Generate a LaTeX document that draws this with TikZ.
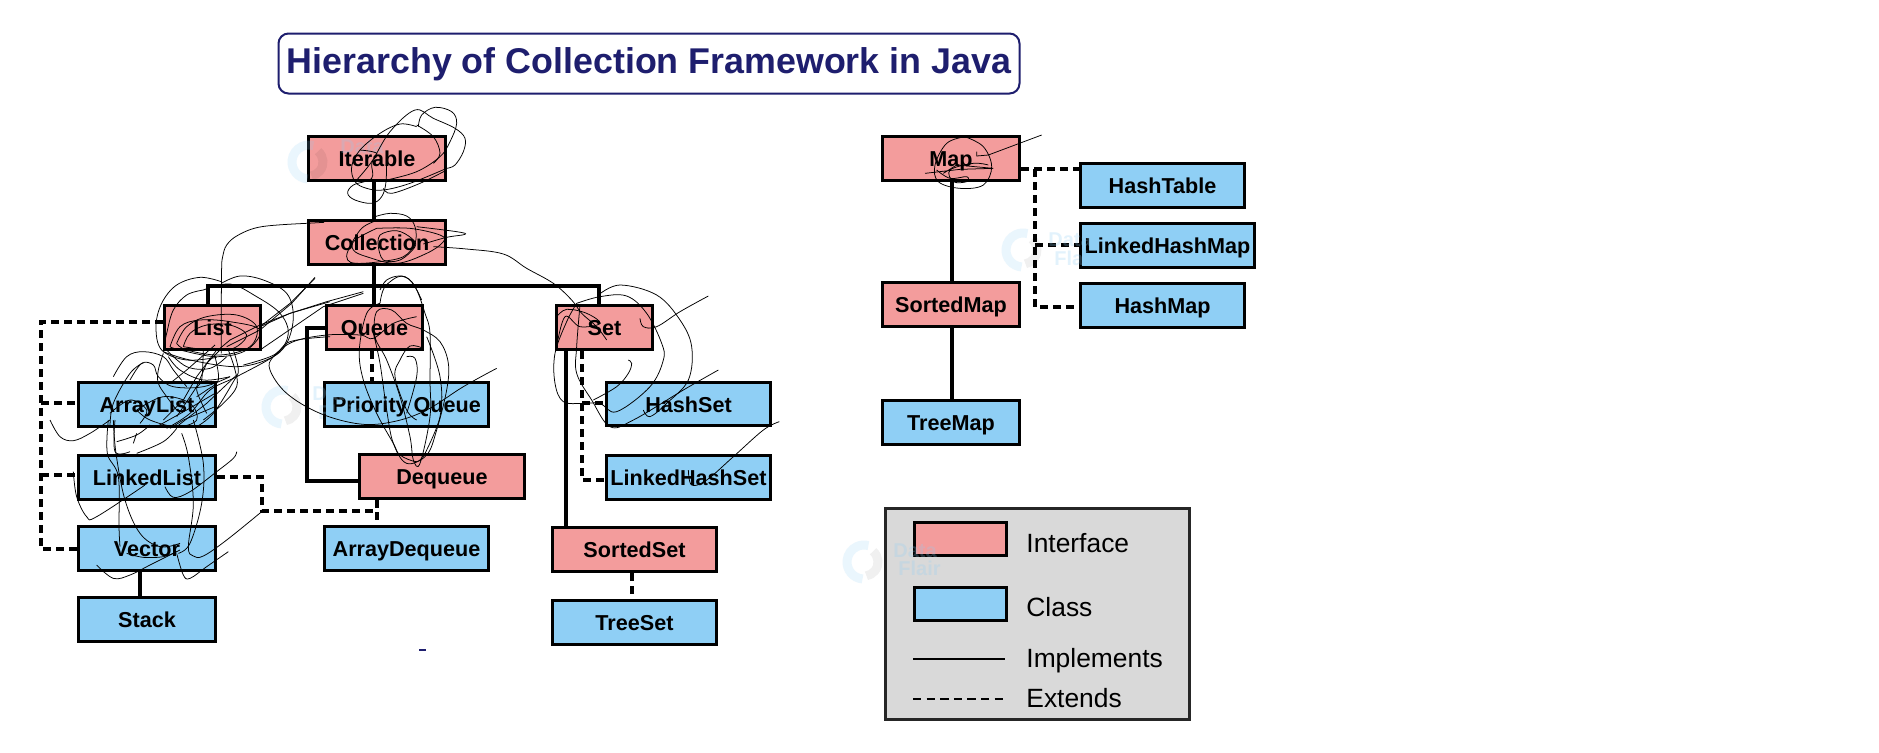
\documentclass[tikz,border=0pt]{standalone}
\usepackage{fontspec}
\setmainfont{Liberation Sans}
\definecolor{ifc}{HTML}{F39C9C}
\definecolor{cls}{HTML}{8FCFF5}
\definecolor{navy}{HTML}{1E1E6E}
\definecolor{lg}{HTML}{D9D9D9}
\newcommand\bx[7]{\pgfmathsetmacro\cxx{(#3+#5)/2}\pgfmathsetmacro\cyy{(#4+#6)/2}\pgfmathsetmacro\ww{(#5-#3-3)*0.5}\pgfmathsetmacro\hh{(#6-#4-3)*0.5}\node[#2,minimum width=\ww pt,minimum height=\hh pt] (#1) at (\cxx,\cyy) {#7};}
\newcommand\scribl[1]{\draw[scrib] plot[smooth,tension=.6] coordinates {#1};}
\newcommand\wmark[3]{%
  \draw[wmblue] ([shift={(95:17)}]#1,#2) arc [start angle=95,end angle=285,radius=17];
  \draw[wmgrey] ([shift={(-50:14)}]#1,#2) arc [start angle=-50,end angle=80,radius=14];
  #3}
\tikzset{
  box/.style={draw=black,line width=1.75pt,inner sep=0pt,font=\bfseries\fontsize{10.8}{12}\selectfont,text=black,text height=8.3pt,text depth=0pt},
  ifbox/.style={box,fill=ifc},
  clbox/.style={box,fill=cls},
  impl/.style={line width=1.6pt,line cap=butt,line join=miter},
  ext/.style={line width=1.6pt,dash pattern=on 4pt off 2.5pt},
  scrib/.style={line width=.38pt,black},
  zm/.style 2 args={shift={(#1,#2)},x=0.16667pt,y=-0.16667pt},
  wmblue/.style={line width=4.5pt,color=cls,opacity=.18},
  wmgrey/.style={line width=4.5pt,color=black,opacity=.06},
  wmtext/.style={font=\bfseries\fontsize{10}{10}\selectfont,text=cls,opacity=.25,anchor=west,inner sep=0pt},
  legtext/.style={font=\fontsize{13.2}{15}\selectfont,anchor=base west,inner sep=0pt,text=black},
}
\begin{document}
\begin{tikzpicture}[x=0.5pt,y=-0.5pt]
\useasboundingbox (0,0) rectangle (1879,752);
\fill[white] (0,0) rectangle (1879,752);
% title
\bx{titlebox}{draw=navy,line width=1pt,rounded corners=5pt,fill=white,inner sep=0pt,text=navy,font=\bfseries\fontsize{17.9}{20}\selectfont,text height=9.5pt,text depth=0pt}{277}{32}{1021}{95}{Hierarchy of Collection Framework in Java}
% connector junctions
\coordinate (tr) at (374,286);
\coordinate (lt) at (208,286);
\coordinate (st) at (599,286);
\coordinate (q1) at (307,328);
\coordinate (q2) at (307,481);
\coordinate (sx) at (566,340);
\coordinate (dx) at (582,340);
\coordinate (hsj) at (582,403);
\coordinate (lhj) at (582,480);
\coordinate (la) at (41,322);
\coordinate (lb) at (41,403);
\coordinate (lc) at (41,475);
\coordinate (ld) at (41,549);
\coordinate (m1) at (262,477);
\coordinate (m2) at (262,511);
\coordinate (m3) at (377,511);
\coordinate (pq) at (372,340);
\coordinate (mpt) at (952,340);
\coordinate (mj) at (1035,169);
\coordinate (mk) at (1035,245);
\coordinate (ml) at (1035,307);
\coordinate (stx) at (140,580);
\coordinate (tsx) at (632,580);
% boxes
\bx{iterable}{ifbox}{307}{135}{447}{182}{Iterable}
\bx{collection}{ifbox}{307}{219}{447}{266}{Collection}
\bx{list}{ifbox}{163}{304}{262}{351}{List}
\bx{queue}{ifbox}{325}{304}{424}{351}{Queue}
\bx{set}{ifbox}{555}{304}{654}{351}{Set}
\bx{arraylist}{clbox}{77}{381}{217}{428}{ArrayList}
\bx{linkedlist}{clbox}{77}{454}{217}{501}{LinkedList}
\bx{vector}{clbox}{77}{525}{217}{572}{Vector}
\bx{stack}{clbox}{77}{596}{217}{643}{Stack}
\bx{pqueue}{clbox}{323}{381}{490}{428}{Priority Queue}
\bx{dequeue}{ifbox}{358}{453}{526}{500}{Dequeue}
\bx{adeque}{clbox}{323}{525}{490}{572}{ArrayDequeue}
\bx{hashset}{clbox}{605}{381}{772}{427}{HashSet}
\bx{lhset}{clbox}{605}{454}{772}{501}{LinkedHashSet}
\bx{sortedset}{ifbox}{551}{526}{718}{573}{SortedSet}
\bx{treeset}{clbox}{551}{599}{718}{646}{TreeSet}
\bx{map}{ifbox}{881}{135}{1021}{182}{Map}
\bx{sortedmap}{ifbox}{881}{281}{1021}{328}{SortedMap}
\bx{treemap}{clbox}{881}{399}{1021}{446}{TreeMap}
\bx{hashtable}{clbox}{1079}{162}{1246}{209}{HashTable}
\bx{lhmap}{clbox}{1079}{222}{1256}{269}{LinkedHashMap}
\bx{hashmap}{clbox}{1079}{282}{1246}{329}{HashMap}
% solid connectors
\draw[impl] (iterable.south -| tr) -- (collection.north -| tr);
\draw[impl] (collection.south -| tr) -- (queue.north -| tr);
\draw[impl] (list.north -| lt) -- (lt) -- (st) -- (set.north -| st);
\draw[impl] (queue.west |- q1) -- (q1) -- (q2) -- (dequeue.west |- q2);
\draw[impl] (set.south -| sx) -- (sortedset.north -| sx);
\draw[impl] (vector.south -| stx) -- (stack.north -| stx);
\draw[impl] (map.south -| mpt) -- (sortedmap.north -| mpt);
\draw[impl] (sortedmap.south -| mpt) -- (treemap.north -| mpt);
% dashed connectors
\draw[ext] (list.west |- la) -- (la) -- (ld) -- (vector.west |- ld);
\draw[ext] (lb) -- (arraylist.west |- lb);
\draw[ext] (lc) -- (linkedlist.west |- lc);
\draw[ext] (linkedlist.east |- m1) -- (m1) -- (m2) -- (m3) -- (m3 |- adeque.north);
\draw[ext] (dequeue.south -| m3) -- (m3);
\draw[ext] (queue.south -| pq) -- (pqueue.north -| pq);
\draw[ext] (set.south -| dx) -- (lhj) -- (lhset.west |- lhj);
\draw[ext] (hsj) -- (hashset.west |- hsj);
\draw[ext] (sortedset.south -| tsx) -- (treeset.north -| tsx);
\draw[ext] (map.east |- mj) -- (hashtable.west |- mj);
\draw[ext] (mj) -- (ml) -- (hashmap.west |- ml);
\draw[ext] (mk) -- (lhmap.west |- mk);
% stray dash
\draw[navy,line width=1pt] (419,650) -- (426,650);
% legend
\bx{legend}{draw=black!85,line width=1.6pt,fill=lg}{884}{507}{1191}{721}{}
\bx{swifc}{draw=black,line width=1.6pt,fill=ifc}{913}{521}{1008}{557}{}
\bx{swcls}{draw=black,line width=1.6pt,fill=cls}{913}{586}{1008}{622}{}
\coordinate (li1) at (913,659); \coordinate (li2) at (1005,659);
\coordinate (le1) at (913,699); \coordinate (le2) at (1005,699);
\draw[line width=1.4pt] (li1) -- (li2);
\draw[line width=1.4pt,dash pattern=on 4.2pt off 2.6pt] (le1) -- (le2);
\node[legtext] (tifc) at (1026,552) {Interface};
\node[legtext] (tcls) at (1026,616) {Class};
\node[legtext] (timp) at (1026,667) {Implements};
\node[legtext] (text) at (1026,707) {Extends};
% watermarks
\wmark{309}{162}{\node[wmtext] (wm1) at (340,147) {Data};}
\wmark{283}{407}{\node[wmtext] (wm2) at (312,394) {Data};\node[wmtext] (wm2b) at (318,412) {Flair};}
\wmark{1023}{250}{\node[wmtext] (wm3) at (1048,240) {Data};\node[wmtext] (wm3b) at (1054,258) {Flair};}
\wmark{864}{562}{\node[wmtext] (wm4) at (893,551) {Data};\node[wmtext] (wm4b) at (898,568) {Flair};}
% scribbles: Iterable
\begin{scope}[zm={300}{100}]
\scribl{(170,240)(215,185)(270,95)(345,30)(400,55)(465,85)(495,115)(490,155)(465,195)(440,205)}
\scribl{(355,80)(365,45)(405,22)(455,35)(470,70)(450,125)(420,170)(350,215)(260,240)}
\scribl{(350,80)(300,72)(240,100)(180,150)(155,200)(165,245)(200,265)(250,270)(330,250)(440,205)}
\scribl{(350,75)(400,110)(420,160)(400,190)}
\scribl{(260,155)(258,245)(245,290)(215,310)(165,300)(143,280)(160,255)(215,235)(215,190)(230,160)(180,150)}
\scribl{(250,265)(275,280)(360,250)(440,210)}
% Collection
\scribl{(225,350)(270,340)(320,348)(345,380)(345,430)(310,470)(240,485)(170,490)(143,480)(145,450)(185,385)(235,360)}
\scribl{(230,385)(330,385)(420,405)(430,425)(380,460)(290,490)(200,470)(160,450)(165,420)(230,385)}
\scribl{(235,440)(240,405)(290,392)(335,415)(345,440)(300,480)(250,480)(235,440)}
\scribl{(370,432)(440,412)(495,403)(470,395)(350,380)}
\scribl{(400,440)(500,447)(610,462)(680,505)(760,550)(815,600)(845,640)(890,680)(920,720)}
\scribl{(240,570)(260,540)(300,528)(335,545)(365,600)}
\end{scope}
% long curve from Collection, down through List
\begin{scope}[zm={0}{100}]
\draw[scrib] (972,367) -- (920,370);
\scribl{(920,370)(785,380)(715,405)(680,435)(668,470)(665,500)(664,600)(664,760)}
\end{scope}
% List / ArrayList
\begin{scope}[zm={30}{270}]
\scribl{(574,35)(510,22)(440,45)(395,100)(378,170)(395,240)(470,270)(560,262)}
\scribl{(520,60)(470,75)(430,120)(410,190)(400,240)}
\scribl{(440,220)(470,170)(530,140)(620,135)(680,170)(660,230)(570,255)(470,240)(440,220)}
\scribl{(420,230)(450,170)(510,150)(600,155)(690,180)(650,240)(560,260)(450,240)(420,230)}
\scribl{(460,230)(480,190)(530,165)(600,165)(650,195)(610,235)(540,240)(460,230)}
\scribl{(574,40)(630,18)(700,30)(770,70)(790,140)(770,220)(720,265)(620,290)(480,270)(400,245)}
\scribl{(520,60)(600,42)(680,80)(750,130)(775,190)(740,250)(640,285)}
\draw[scrib] (855,22) -- (785,100) -- (690,180) -- (590,230);
\draw[scrib] (900,95) -- (780,130) -- (690,165) -- (600,210) -- (570,235);
\scribl{(900,200)(780,215)(730,260)(620,320)(540,360)(480,430)(410,475)}
\draw[scrib] (575,235) -- (530,280) -- (500,350) -- (440,440);
\draw[scrib] (560,240) -- (500,320) -- (460,390) -- (400,450);
\draw[scrib] (555,225) -- (470,300) -- (420,340);
\scribl{(610,240)(625,300)(610,335)(550,430)(500,470)}
\scribl{(595,240)(615,300)(620,350)(580,400)(520,450)}
\scribl{(520,240)(515,330)(500,360)(530,430)}
\scribl{(555,260)(565,330)(530,360)(500,380)}
\draw[scrib] (555,370) -- (470,420) -- (380,470);
\draw[scrib] (555,410) -- (460,450) -- (420,475);
\draw[scrib] (620,315) -- (530,400) -- (440,470);
\scribl{(250,320)(290,260)(340,245)(400,260)(430,300)(470,350)}
\scribl{(300,330)(335,280)(370,285)(385,320)(430,350)(520,350)(600,320)}
\scribl{(240,470)(250,400)(300,310)(340,278)}
\scribl{(400,250)(385,300)(385,340)(410,380)(440,420)}
\scribl{(415,260)(450,300)(520,330)(600,320)}
\scribl{(410,240)(470,290)(540,295)(590,260)}
\scribl{(320,420)(400,380)(480,400)(500,450)(440,470)(360,450)(320,420)}
\scribl{(240,430)(300,390)(350,420)(330,460)}
\end{scope}
% below ArrayList to Vector
\begin{scope}[zm={30}{420}]
\scribl{(235,0)(232,100)(265,170)(267,320)(270,380)}
\scribl{(250,0)(258,100)(285,240)(330,340)(390,380)(450,370)}
\scribl{(490,0)(520,130)(515,250)(480,370)(445,400)}
\scribl{(455,40)(475,110)(490,250)(475,380)(490,408)(520,408)(590,360)(695,275)}
\scribl{(60,0)(90,50)(130,62)(180,40)(240,0)}
\scribl{(130,155)(140,230)(170,290)(200,290)(345,195)}
\scribl{(620,95)(610,115)(560,155)(480,215)(430,232)(405,200)}
\scribl{(200,435)(250,475)(300,465)(360,435)(450,390)}
\scribl{(290,400)(340,412)(400,410)(440,395)}
\scribl{(595,395)(530,440)(480,475)(460,465)(440,400)}
\scribl{(260,65)(320,45)(360,15)}
\draw[scrib] (310,70) -- (320,40);
\scribl{(320,100)(400,65)(440,25)}
\scribl{(255,0)(255,95)(300,95)}
\end{scope}
% Queue
\begin{scope}[zm={260}{270}]
\draw[scrib] (310,65) -- (200,95) -- (90,130) -- (0,170);
\draw[scrib] (310,70) -- (190,110) -- (0,240);
\draw[scrib] (165,25) -- (90,100) -- (0,170);
\scribl{(470,140)(400,160)(340,205)(300,195)(200,195)(100,215)(40,260)(30,300)(80,370)(180,430)(300,462)(400,455)(500,420)(610,350)(710,295)}
\scribl{(360,100)(375,50)(425,18)(465,50)(495,130)(510,190)(510,330)(510,440)(480,580)(460,570)(450,500)(420,380)(380,270)(345,200)(350,125)(395,120)(440,160)(490,180)(540,215)(565,280)(560,360)(530,480)(500,555)(440,580)(400,520)(380,420)(360,280)(340,190)}
\scribl{(360,100)(320,130)(298,240)(310,330)(350,430)(400,520)(420,555)(470,575)(490,555)}
\scribl{(490,235)(450,228)(420,270)(405,320)(440,420)(470,450)}
\scribl{(440,260)(465,265)(470,320)(440,430)}
\scribl{(500,200)(540,320)(540,440)(490,560)}
\end{scope}
% Set
\begin{scope}[zm={500}{280}]
\scribl{(295,45)(360,15)(470,45)(540,120)(575,200)(565,300)(500,370)(450,410)(430,390)}
\scribl{(230,70)(300,50)(380,48)(440,100)(485,190)(490,240)(450,320)(350,395)(300,370)(250,370)(190,365)(165,310)(165,220)(200,125)(230,70)}
\scribl{(170,200)(195,110)(240,140)(300,130)(260,100)(200,88)(170,110)}
\scribl{(420,115)(430,140)(470,140)(540,95)(625,48)}
\scribl{(385,240)(395,250)(385,280)(350,320)(280,360)}
\scribl{(240,75)(230,200)(230,280)(275,360)(330,440)(400,420)(550,330)(655,270)}
\scribl{(838,425)(790,450)(700,530)(620,600)(575,615)(565,570)}
\end{scope}
% Map
\begin{scope}[zm={860}{110}]
\scribl{(315,80)(260,100)(225,165)(235,215)(300,235)(370,225)(395,170)(370,110)(315,80)}
\draw[scrib] (350,125) -- (350,138) -- (385,135) -- (545,75);
\draw[scrib] (195,190) -- (300,178) -- (400,175) -- (290,165) -- (250,190);
\scribl{(230,180)(270,205)(320,200)(320,215)(280,215)(270,180)(340,160)(385,165)}
\end{scope}
\end{tikzpicture}
\end{document}
